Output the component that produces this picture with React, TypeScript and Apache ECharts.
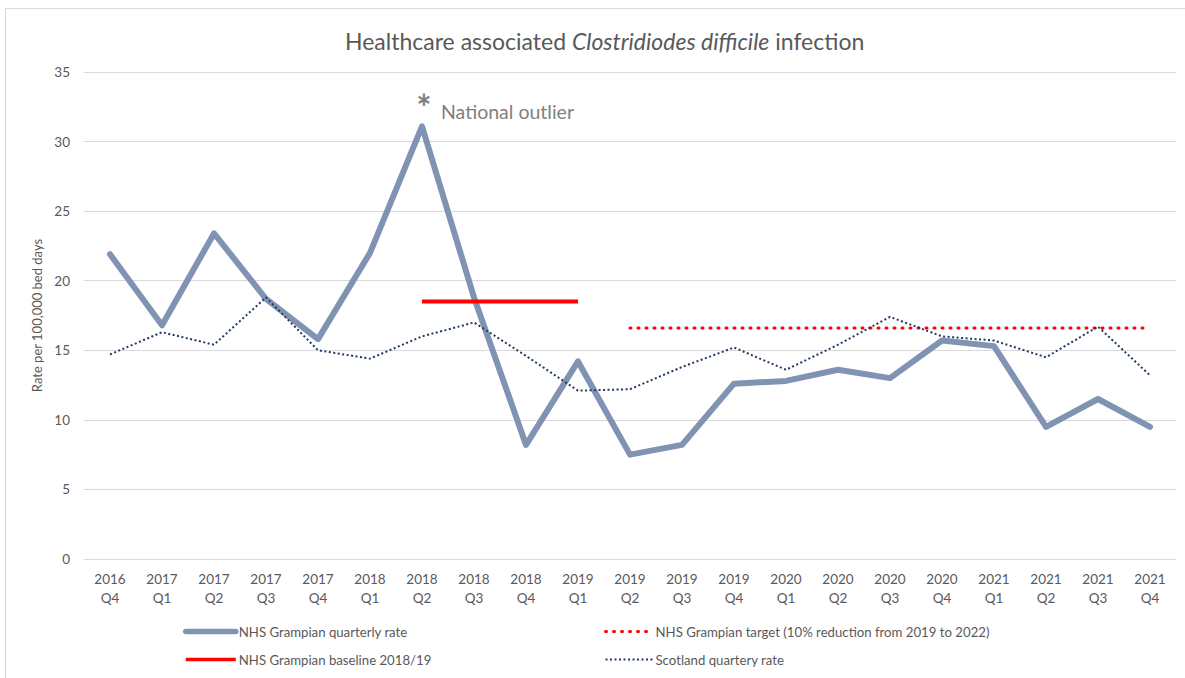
import React, { useEffect, useRef } from "react";
import * as echarts from "echarts";

const quarters = [
  "2016\nQ4", "2017\nQ1", "2017\nQ2", "2017\nQ3", "2017\nQ4",
  "2018\nQ1", "2018\nQ2", "2018\nQ3", "2018\nQ4", "2019\nQ1",
  "2019\nQ2", "2019\nQ3", "2019\nQ4", "2020\nQ1", "2020\nQ2",
  "2020\nQ3", "2020\nQ4", "2021\nQ1", "2021\nQ2", "2021\nQ3", "2021\nQ4",
];

const grampianRate = [
  21.9, 16.8, 23.4, 18.7, 15.8, 22.0, 31.1, 18.8, 8.2, 14.2,
  7.5, 8.2, 12.6, 12.8, 13.6, 13.0, 15.7, 15.3, 9.5, 11.5, 9.5,
];

const scotlandRate = [
  14.7, 16.3, 15.4, 18.8, 15.0, 14.4, 16.0, 17.0, 14.6, 12.1,
  12.2, 13.8, 15.2, 13.6, 15.4, 17.4, 16.0, 15.7, 14.5, 16.7, 13.2,
];

const baselineValue = 18.5;
const baselineRange = ["2018\nQ2", "2019\nQ1"];
const targetValue = 16.6;
const targetRange = ["2019\nQ2", "2021\nQ4"];

const outlierQuarter = "2018\nQ2";

const yTicks = { min: 0, max: 35, interval: 5 };

const FONT = "Lato, 'Open Sans', sans-serif";
const TEXT = "#595959";

const GRAMPIAN = "NHS Grampian quarterly rate";
const BASELINE = "NHS Grampian baseline 2018/19";
const TARGET = "NHS Grampian target (10% reduction from 2019 to 2022)";
const SCOTLAND = "Scotland quartery rate";

const styles = {
  grampian: { color: "#8093B3", width: 6, join: "round", cap: "round" },
  baseline: { color: "#FF0000", width: 4 },
  target: { color: "#FF0000", width: 3, type: [1, 7], cap: "round" },
  scotland: { color: "#1F3864", width: 2, type: [2, 2.5] },
};

function rangeSeries(range: string[], value: number) {
  const a = quarters.indexOf(range[0]);
  const b = quarters.indexOf(range[1]);
  return quarters.map((_, i) => (i >= a && i <= b ? value : null));
}

export default function App() {
  const ref = useRef<HTMLDivElement>(null);
  useEffect(() => {
    if (!ref.current) return;
    const chart = echarts.init(ref.current, null, { renderer: "svg" });
    const outlierIdx = quarters.indexOf(outlierQuarter);
    const legendCommon = {
      orient: "vertical",
      itemHeight: 14,
      itemGap: 15,
      padding: 0,
      itemStyle: { opacity: 0, borderWidth: 0 },
      textStyle: { fontFamily: FONT, fontSize: 13.2, color: TEXT, padding: [0, 0, 0, -2] },
    };
    chart.setOption({
      animation: false,
      backgroundColor: "#ffffff",
      textStyle: { fontFamily: FONT },
      title: {
        text: "Healthcare associated {i|Clostridiodes difficile} infection",
        left: 340,
        top: 24,
        textStyle: {
          fontFamily: FONT,
          fontSize: 23,
          fontWeight: "normal",
          color: TEXT,
          rich: {
            i: { fontFamily: FONT, fontSize: 23, fontStyle: "italic", color: TEXT },
          },
        },
      },
      graphic: [
        { type: "line", shape: { x1: 5.5, y1: 8.5, x2: 1185, y2: 8.5 }, style: { stroke: "#D9D9D9", lineWidth: 1 } },
        { type: "line", shape: { x1: 5.5, y1: 8.5, x2: 5.5, y2: 678 }, style: { stroke: "#D9D9D9", lineWidth: 1 } },
      ],
      grid: { left: 84, right: 9, top: 72, bottom: 119 },
      legend: [
        {
          ...legendCommon,
          left: 183,
          top: 625,
          itemWidth: 50,
          data: [
            { name: GRAMPIAN, lineStyle: { width: 5.5 } },
            { name: BASELINE, lineStyle: { width: 3.5 } },
          ],
        },
        {
          ...legendCommon,
          left: 604,
          top: 625,
          itemWidth: 47,
          data: [
            { name: TARGET, lineStyle: { width: 3 } },
            { name: SCOTLAND, lineStyle: { width: 2 } },
          ],
        },
      ],
      xAxis: {
        type: "category",
        data: quarters,
        boundaryGap: true,
        axisLine: { show: false },
        axisTick: { show: false },
        axisLabel: { color: TEXT, fontSize: 13.5, lineHeight: 19, margin: 10, interval: 0, fontFamily: FONT },
        splitLine: { show: false },
      },
      yAxis: {
        type: "value",
        min: yTicks.min,
        max: yTicks.max,
        interval: yTicks.interval,
        name: "Rate per 100,000 bed days",
        nameLocation: "middle",
        nameGap: 38,
        nameTextStyle: { color: TEXT, fontSize: 13, fontFamily: FONT },
        axisLine: { show: false },
        axisTick: { show: false },
        axisLabel: { color: TEXT, fontSize: 13.5, margin: 14, fontFamily: FONT },
        splitLine: { lineStyle: { color: "#D9D9D9", width: 1 } },
      },
      series: [
        {
          name: GRAMPIAN,
          type: "line",
          data: grampianRate,
          symbol: "none",
          z: 3,
          lineStyle: styles.grampian,
          itemStyle: { color: styles.grampian.color },
          markPoint: {
            symbol: "circle",
            symbolSize: 0,
            silent: true,
            data: [
              {
                coord: [outlierIdx, grampianRate[outlierIdx]],
                label: {
                  show: true,
                  formatter: "*",
                  position: "inside",
                  offset: [2, -19],
                  fontSize: 36,
                  fontWeight: "bold",
                  color: "#7F7F7F",
                  fontFamily: FONT,
                },
              },
              {
                coord: [outlierIdx, grampianRate[outlierIdx]],
                label: {
                  show: true,
                  formatter: "National outlier",
                  position: "inside",
                  align: "left",
                  offset: [19, -15],
                  fontSize: 19.5,
                  color: "#7F7F7F",
                  fontFamily: FONT,
                },
              },
            ],
          },
        },
        {
          name: BASELINE,
          type: "line",
          data: rangeSeries(baselineRange, baselineValue),
          symbol: "none",
          z: 4,
          lineStyle: styles.baseline,
          itemStyle: { color: styles.baseline.color },
        },
        {
          name: TARGET,
          type: "line",
          data: rangeSeries(targetRange, targetValue),
          symbol: "none",
          z: 4,
          lineStyle: styles.target,
          itemStyle: { color: styles.target.color },
        },
        {
          name: SCOTLAND,
          type: "line",
          data: scotlandRate,
          symbol: "none",
          z: 5,
          lineStyle: styles.scotland,
          itemStyle: { color: styles.scotland.color },
        },
      ],
    });
    return () => chart.dispose();
  }, []);
  return (
    <div
      ref={ref}
      style={{ position: "absolute", left: 0, top: 0, width: 1185, height: 678 }}
    />
  );
}
